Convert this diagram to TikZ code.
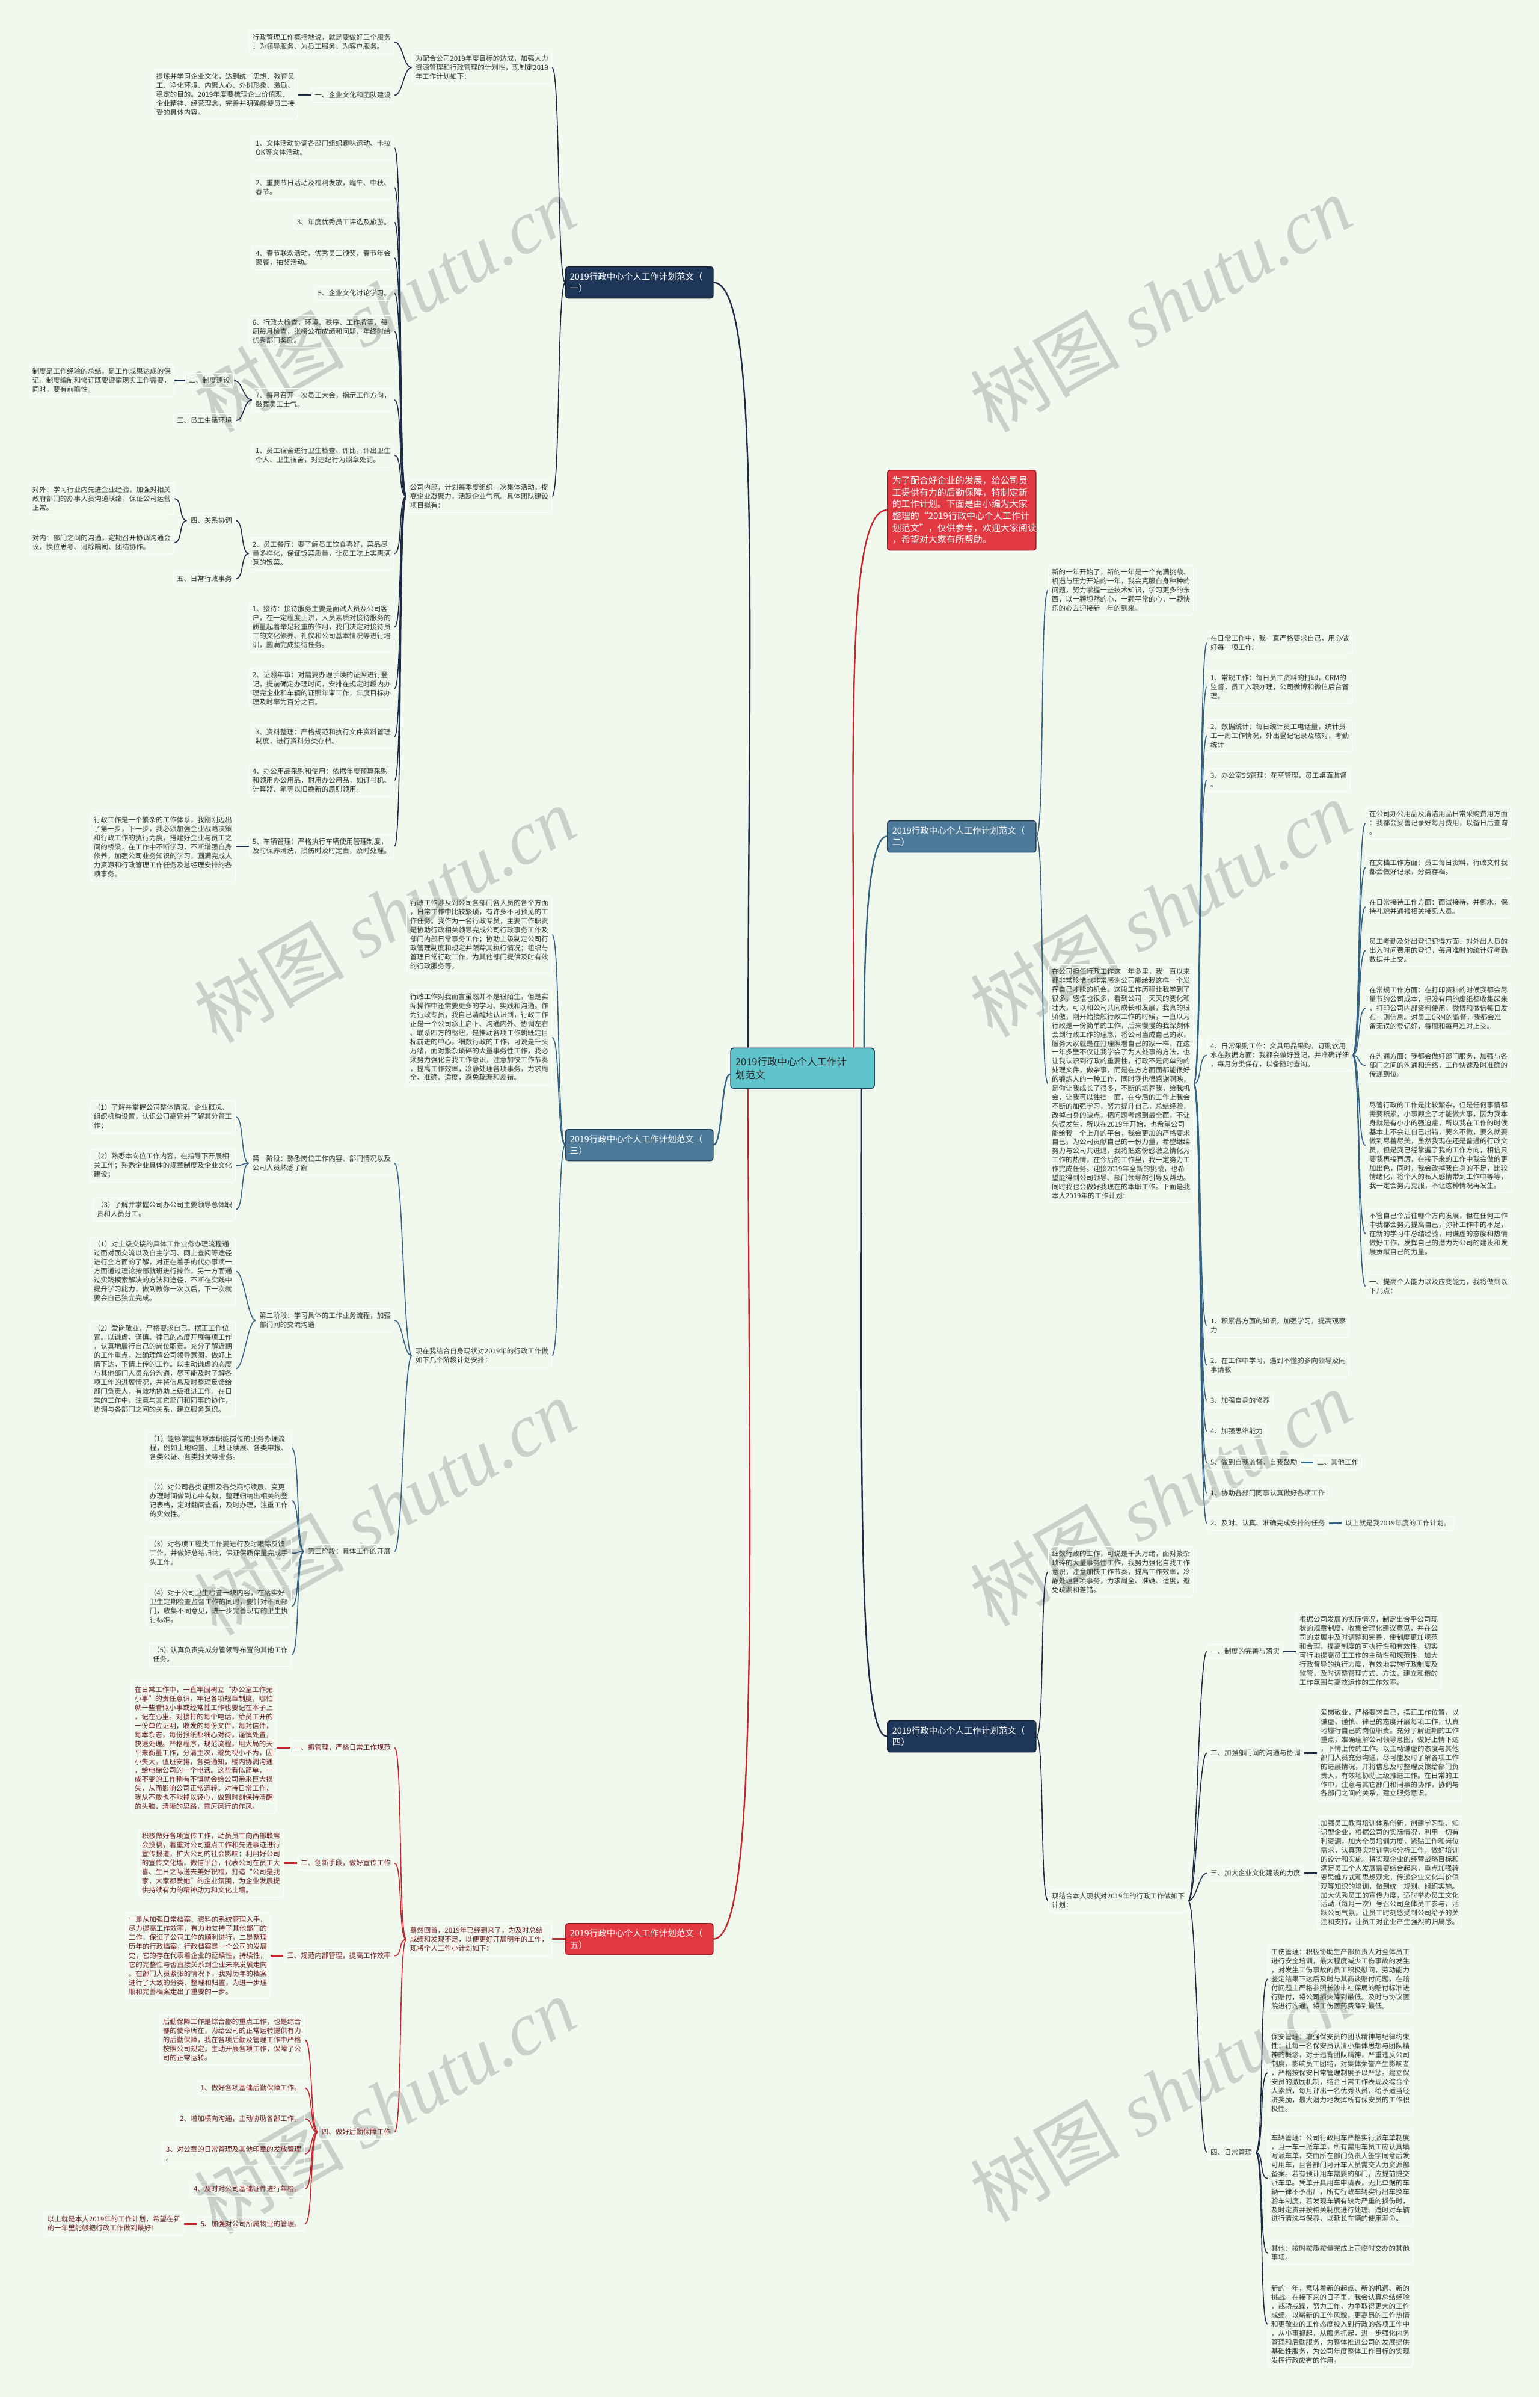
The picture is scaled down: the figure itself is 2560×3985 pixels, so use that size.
\documentclass[tikz,border=0pt]{standalone}
\usepackage{fontspec}
\setmainfont{Noto Sans CJK SC}
\newfontfamily\wmfont{Liberation Serif}
\pgfdeclarelayer{wmlayer}
\pgfdeclarelayer{linelayer}
\pgfsetlayers{wmlayer,linelayer,main}
\definecolor{bgc}{RGB}{241,249,239}
\definecolor{wmc}{RGB}{201,208,202}
\definecolor{leaftxt}{RGB}{51,51,51}
\definecolor{redtxt}{RGB}{110,28,28}
\definecolor{navyfill}{RGB}{30,55,88}
\definecolor{navyline}{RGB}{28,42,68}
\definecolor{steelfill}{RGB}{77,122,153}
\definecolor{steelline}{RGB}{52,96,130}
\definecolor{redfill}{RGB}{225,56,66}
\definecolor{redline}{RGB}{196,36,44}
\definecolor{ctrfill}{RGB}{96,196,204}
\newcommand\linkL[3][]{\draw[#1] (#2.west) .. controls +(-14,0) and +(14,0) .. (#3.east);}
\newcommand\linkR[3][]{\draw[#1] (#2.east) .. controls +(14,0) and +(-14,0) .. (#3.west);}
\newcommand\barL[2]{\draw[line width=2.6pt] (#1.west) -- (#1.west -| #2.east);}
\newcommand\barR[2]{\draw[line width=2.6pt] (#1.east) -- (#1.east -| #2.west);}
\tikzset{
  leaf/.style={draw=white, line width=1.1pt, rounded corners=5pt, inner xsep=5.5pt, inner ysep=6.5pt,
    align=left, font=\fontsize{11.5}{14.9}\selectfont, text=leaftxt},
  rleaf/.style={leaf, text=redtxt},
  lside/.style={anchor=north east},
  rside/.style={anchor=north west},
  branchbox/.style={rounded corners=4pt, line width=1.5pt, inner xsep=7pt, inner ysep=9.2pt,
    text width=231pt, align=left, font=\fontsize{14.5}{19.6}\selectfont, text=white, anchor=north west},
  navybr/.style={branchbox, fill=navyfill, draw=navyline!80!black},
  steelbr/.style={branchbox, fill=steelfill, draw=steelline!70!black},
  redbr/.style={branchbox, fill=redfill, draw=redline!80!black},
  cnavy/.style={draw=navyline, line width=1.6pt},
  csteel/.style={draw=steelline, line width=1.6pt},
  cred/.style={draw=redline, line width=1.6pt},
  wmark/.style={text=wmc, font=\fontsize{125}{130}\selectfont, rotate=30, inner sep=0pt}
}
\begin{document}
\begin{tikzpicture}[x=1pt,y=-1pt]
\useasboundingbox (0,0) rectangle (2560,3985);
\begin{pgfonlayer}{wmlayer}
\fill[bgc] (0,0) rectangle (2560,3985);
\node[wmark] (wm1) at (640,505) {树图\hspace{30pt}{\wmfont\itshape shutu.cn}};
\node[wmark] (wm2) at (1930,505) {树图\hspace{30pt}{\wmfont\itshape shutu.cn}};
\node[wmark] (wm3) at (640,1520) {树图\hspace{30pt}{\wmfont\itshape shutu.cn}};
\node[wmark] (wm4) at (1930,1510) {树图\hspace{30pt}{\wmfont\itshape shutu.cn}};
\node[wmark] (wm5) at (640,2505) {树图\hspace{30pt}{\wmfont\itshape shutu.cn}};
\node[wmark] (wm6) at (1930,2490) {树图\hspace{30pt}{\wmfont\itshape shutu.cn}};
\node[wmark] (wm7) at (640,3500) {树图\hspace{30pt}{\wmfont\itshape shutu.cn}};
\node[wmark] (wm8) at (1930,3480) {树图\hspace{30pt}{\wmfont\itshape shutu.cn}};
\end{pgfonlayer}

% ---------- centre and branches ----------
\node[fill=ctrfill, draw=steelline!70!black, line width=1.5pt, rounded corners=5pt, text width=223pt,
  inner xsep=8pt, inner ysep=15pt, align=left, font=\fontsize{16.5}{22}\selectfont, text=black!85] (ctr) at (1334.5,1776)
  {2019行政中心个人工作计\\划范文};
\node[navybr] (b1) at (940,443) {2019行政中心个人工作计划范文（\\一）};
\node[steelbr] (b3) at (940,1877) {2019行政中心个人工作计划范文（\\三）};
\node[redbr] (b5) at (940,3197) {2019行政中心个人工作计划范文（\\五）};
\node[redbr, font=\fontsize{15}{19.7}\selectfont, inner ysep=10pt, inner xsep=8pt] (intro) at (1475,781)
  {为了配合好企业的发展，给公司员\\工提供有力的后勤保障，特制定新\\的工作计划。下面是由小编为大家\\整理的“2019行政中心个人工作计\\划范文”，仅供参考，欢迎大家阅读\\，希望对大家有所帮助。};
\node[steelbr, inner xsep=8pt] (b2) at (1475,1364) {2019行政中心个人工作计划范文（\\二）};
\node[navybr, inner xsep=8pt] (b4) at (1475,2860) {2019行政中心个人工作计划范文（\\四）};

% ---------- branch one ----------
\node[leaf,lside] (a1) at (918,85) {为配合公司2019年度目标的达成，加强人力\\资源管理和行政管理的计划性，现制定2019\\年工作计划如下：};
\node[leaf,lside] (a1a) at (656,50) {行政管理工作概括地说，就是要做好三个服务\\：为领导服务、为员工服务、为客户服务。};
\node[leaf,lside] (a1b) at (656,146) {一、企业文化和团队建设};
\node[leaf,lside] (a1b1) at (496,115) {提炼并学习企业文化，达到统一思想、教育员\\工、净化环境、内聚人心、外树形象、激励、\\稳定的目的。2019年度要梳理企业价值观、\\企业精神、经营理念，完善并明确能使员工接\\受的具体内容。};
\node[leaf,lside] (a2) at (918,798) {公司内部，计划每季度组织一次集体活动，提\\高企业凝聚力，活跃企业气氛。具体团队建设\\项目拟有：};
\node[leaf,lside] (a2c1) at (656,226) {1、文体活动协调各部门组织趣味运动、卡拉\\OK等文体活动。};
\node[leaf,lside] (a2c2) at (656,292) {2、重要节日活动及福利发放，端午、中秋、\\春节。};
\node[leaf,lside] (a2c3) at (656,357) {3、年度优秀员工评选及旅游。};
\node[leaf,lside] (a2c4) at (656,409) {4、春节联欢活动，优秀员工颁奖，春节年会\\聚餐，抽奖活动。};
\node[leaf,lside] (a2c5) at (656,475) {5、企业文化讨论学习。};
\node[leaf,lside] (a2c6) at (656,524) {6、行政大检查，环境、秩序、工作牌等，每\\周每月检查，张榜公布成绩和问题，年终时给\\优秀部门奖励。};
\node[leaf,lside] (a2c7) at (656,645) {7、每月召开一次员工大会，指示工作方向，\\鼓舞员工士气。};
\node[leaf,lside] (s2) at (389,620) {二、制度建设};
\node[leaf,lside] (s2t) at (290,605) {制度是工作经验的总结，是工作成果达成的保\\证。制度编制和修订既要遵循现实工作需要，\\同时，要有前瞻性。};
\node[leaf,lside] (s3) at (392,687) {三、员工生活环境};
\node[leaf,lside] (a2c8) at (656,737) {1、员工宿舍进行卫生检查、评比，评出卫生\\个人、卫生宿舍，对违纪行为照章处罚。};
\node[leaf,lside] (a2c9) at (656,893) {2、员工餐厅：要了解员工饮食喜好，菜品尽\\量多样化，保证饭菜质量，让员工吃上实惠满\\意的饭菜。};
\node[leaf,lside] (s4) at (392,853) {四、关系协调};
\node[leaf,lside] (s4a) at (290,802) {对外：学习行业内先进企业经验，加强对相关\\政府部门的办事人员沟通联络，保证公司运营\\正常。};
\node[leaf,lside] (s4b) at (290,882) {对内：部门之间的沟通，定期召开协调沟通会\\议，换位思考、消除隔阂、团结协作。};
\node[leaf,lside] (s5) at (392,950) {五、日常行政事务};
\node[leaf,lside] (a2c10) at (656,1000) {1、接待：接待服务主要是面试人员及公司客\\户，在一定程度上讲，人员素质对接待服务的\\质量起着举足轻重的作用，我们决定对接待员\\工的文化修养、礼仪和公司基本情况等进行培\\训，圆满完成接待任务。};
\node[leaf,lside] (a2c11) at (656,1110) {2、证照年审：对需要办理手续的证照进行登\\记，提前确定办理时间，安排在规定时段内办\\理完企业和车辆的证照年审工作，年度目标办\\理及时率为百分之百。};
\node[leaf,lside] (a2c12) at (656,1205) {3、资料整理：严格规范和执行文件资料管理\\制度，进行资料分类存档。};
\node[leaf,lside] (a2c13) at (656,1270) {4、办公用品采购和使用：依据年度预算采购\\和领用办公用品，耐用办公用品，如订书机、\\计算器、笔等以旧换新的原则领用。};
\node[leaf,lside] (a2c14) at (656,1387) {5、车辆管理：严格执行车辆使用管理制度，\\及时保养清洗，损伤时及时定责，及时处理。};
\node[leaf,lside] (a2c14a) at (392,1351) {行政工作是一个繁杂的工作体系，我刚刚迈出\\了第一步，下一步，我必须加强企业战略决策\\和行政工作的执行力度，搭建好企业与员工之\\间的桥梁，在工作中不断学习，不断增强自身\\修养，加强公司业务知识的学习，圆满完成人\\力资源和行政管理工作任务及总经理安排的各\\项事务。};

% ---------- branch three ----------
\node[leaf,lside] (p1) at (918,1489) {行政工作涉及到公司各部门各人员的各个方面\\，日常工作中比较繁琐，有许多不可预见的工\\作任务。我作为一名行政专员，主要工作职责\\是协助行政相关领导完成公司行政事务工作及\\部门内部日常事务工作；协助上级制定公司行\\政管理制度和规定并跟踪其执行情况；组织与\\管理日常行政工作，为其他部门提供及时有效\\的行政服务等。};
\node[leaf,lside] (p2) at (918,1645) {行政工作对我而言虽然并不是很陌生，但是实\\际操作中还需要更多的学习、实践和沟通。作\\为行政专员，我自己清醒地认识到，行政工作\\正是一个公司承上启下、沟通内外、协调左右\\、联系四方的枢纽，是推动各项工作朝既定目\\标前进的中心。细数行政的工作，可说是千头\\万绪，面对繁杂琐碎的大量事务性工作，我必\\须努力强化自我工作意识，注意加快工作节奏\\，提高工作效率，冷静处理各项事务，力求周\\全、准确、适度，避免疏漏和差错。};
\node[leaf,lside] (p3) at (918,2234) {现在我结合自身现状对2019年的行政工作做\\如下几个阶段计划安排：};
\node[leaf,lside] (c1) at (656,1914) {第一阶段：熟悉岗位工作内容、部门情况以及\\公司人员熟悉了解};
\node[leaf,lside] (c1a) at (392,1829) {（1）了解并掌握公司整体情况，企业概况、\\组织机构设置，认识公司高管并了解其分管工\\作；};
\node[leaf,lside] (c1b) at (392,1910) {（2）熟悉本岗位工作内容，在指导下开展相\\关工作；熟悉企业具体的规章制度及企业文化\\建设；};
\node[leaf,lside] (c1c) at (392,1991) {（3）了解并掌握公司办公司主要领导总体职\\责和人员分工。};
\node[leaf,lside] (c2) at (656,2175) {第二阶段：学习具体的工作业务流程，加强\\部门间的交流沟通};
\node[leaf,lside] (c2a) at (392,2056) {（1）对上级交接的具体工作业务办理流程通\\过面对面交流以及自主学习、网上查阅等途径\\进行全方面的了解，对正在着手的代办事项一\\方面通过理论按部就班进行操作，另一方面通\\过实践摸索解决的方法和途径，不断在实践中\\提升学习能力，做到教你一次以后，下一次就\\要会自己独立完成。};
\node[leaf,lside] (c2b) at (392,2196) {（2）爱岗敬业，严格要求自己，摆正工作位\\置。以谦虚、谨慎、律己的态度开展每项工作\\，认真地履行自己的岗位职责。充分了解近期\\的工作重点，准确理解公司领导意图，做好上\\情下达，下情上传的工作。以主动谦虚的态度\\与其他部门人员充分沟通，尽可能及时了解各\\项工作的进展情况，并将信息及时整理反馈给\\部门负责人，有效地协助上级推进工作。在日\\常的工作中，注意与其它部门和同事的协作，\\协调与各部门之间的关系，建立服务意识。};
\node[leaf,lside] (c3) at (656,2567) {第三阶段：具体工作的开展};
\node[leaf,lside] (c3a) at (485,2380) {（1）能够掌握各项本职能岗位的业务办理流\\程，例如土地购置、土地证续展、各类申报、\\各类公证、各类报关等业务。};
\node[leaf,lside] (c3b) at (485,2460) {（2）对公司各类证照及各类商标续展、变更\\办理时间做到心中有数，整理归纳出相关的登\\记表格，定时翻阅查看，及时办理，注重工作\\的实效性。};
\node[leaf,lside] (c3c) at (485,2555) {（3）对各项工程类工作要进行及时跟踪反馈\\工作，并做好总结归纳，保证保质保量完成手\\头工作。};
\node[leaf,lside] (c3d) at (485,2636) {（4）对于公司卫生检查一块内容，在落实好\\卫生定期检查监督工作的同时，要针对不同部\\门，收集不同意见，进一步完善现有的卫生执\\行标准。};
\node[leaf,lside] (c3e) at (485,2731) {（5）认真负责完成分管领导布置的其他工作\\任务。};

% ---------- branch five ----------
\node[rleaf,lside] (d1) at (918,3197) {蓦然回首，2019年已经到来了，为及时总结\\成绩和发现不足，以便更好开展明年的工作，\\现将个人工作小计划如下：};
\node[rleaf,lside] (e1) at (656,2893) {一、抓管理，严格日常工作规范};
\node[rleaf,lside] (e1a) at (460,2797) {在日常工作中，一直牢固树立“办公室工作无\\小事”的责任意识，牢记各项规章制度，哪怕\\就一些看似小事或经常性工作也要记在本子上\\，记在心里。对接打的每个电话，给员工开的\\一份单位证明，收发的每份文件，每封信件，\\每本杂志，每份报纸都细心对待，谨慎处置，\\快速处理。严格程序，规范流程，用大局的天\\平来衡量工作，分清主次，避免视小不为，因\\小失大。值班安排，各类通知，楼内协调沟通\\，给电梯公司的一个电话。这些看似简单，一\\成不变的工作稍有不慎就会给公司带来巨大损\\失，从而影响公司正常运转。对待日常工作，\\我从不敢也不能掉以轻心，做到时刻保持清醒\\的头脑，清晰的思路，雷厉风行的作风。};
\node[rleaf,lside] (e2) at (656,3085) {二、创新手段，做好宣传工作};
\node[rleaf,lside] (e2a) at (472,3040) {积极做好各项宣传工作，动员员工向西部联席\\会投稿，着重对公司重点工作和先进事迹进行\\宣传报道，扩大公司的社会影响；利用好公司\\的宣传文化墙，微信平台，代表公司在员工大\\喜、生日之际送去美好祝福，打造“公司是我\\家，大家都爱她”的企业氛围，为企业发展提\\供持续有力的精神动力和文化土壤。};
\node[rleaf,lside] (e3) at (656,3239) {三、规范内部管理，提高工作效率};
\node[rleaf,lside] (e3a) at (450,3179) {一是从加强日常档案、资料的系统管理入手，\\尽力提高工作效率，有力地支持了其他部门的\\工作，保证了公司工作的顺利进行。二是整理\\历年的行政档案，行政档案是一个公司的发展\\史，它的存在代表着企业的延续性，持续性，\\它的完整性与否直接关系到企业未来发展走向\\。在部门人员紧张的情况下，我对历年的档案\\进行了大致的分类、整理和归置，为进一步理\\顺和完善档案走出了重要的一步。};
\node[rleaf,lside] (e4) at (656,3532) {四、做好后勤保障工作};
\node[rleaf,lside] (e4a) at (507,3349) {后勤保障工作是综合部的重点工作，也是综合\\部的使命所在，为给公司的正常运转提供有力\\的后勤保障，我在各项后勤及管理工作中严格\\按照公司规定，主动开展各项工作，保障了公\\司的正常运转。};
\node[rleaf,lside] (e4b) at (507,3459) {1、做好各项基础后勤保障工作。};
\node[rleaf,lside] (e4c) at (507,3510) {2、增加横向沟通，主动协助各部工作。};
\node[rleaf,lside] (e4d) at (507,3561) {3、对公章的日常管理及其他印章的发放管理\\。};
\node[rleaf,lside] (e4e) at (507,3627) {4、及时对公司基础证件进行年检。};
\node[rleaf,lside] (e4f) at (507,3685) {5、加强对公司所属物业的管理。};
\node[rleaf,lside] (e4f1) at (306,3677) {以上就是本人2019年的工作计划，希望在新\\的一年里能够把行政工作做到最好！};

% ---------- branch two ----------
\node[leaf,rside] (f1) at (1743,939) {新的一年开始了，新的一年是一个充满挑战、\\机遇与压力开始的一年，我会克服自身种种的\\问题，努力掌握一些技术知识，学习更多的东\\西，以一颗坦然的心，一颗平常的心，一颗快\\乐的心去迎接新一年的到来。};
\node[leaf,rside] (f2) at (1743,1603) {在公司担任行政工作这一年多里，我一直以来\\都非常珍惜也非常感谢公司能给我这样一个发\\挥自己才能的机会。这段工作历程让我学到了\\很多，感悟也很多，看到公司一天天的变化和\\壮大，可以和公司共同成长和发展，我真的很\\骄傲，刚开始接触行政工作的时候，一直以为\\行政是一份简单的工作，后来慢慢的我深刻体\\会到行政工作的理念，将公司当成自己的家，\\服务大家就是在打理照看自己的家一样，在这\\一年多里不仅让我学会了为人处事的方法，也\\让我认识到行政的重要性，行政不是简单的的\\处理文件，做杂事，而是在方方面面都能很好\\的锻炼人的一种工作，同时我也很感谢啊映，\\是你让我成长了很多，不断的培养我，给我机\\会，让我可以独挡一面，在今后的工作上我会\\不断的加强学习，努力提升自己，总结经验，\\改掉自身的缺点，把问题考虑到最全面，不让\\失误发生，所以在2019年开始，也希望公司\\能给我一个上升的平台，我会更加的严格要求\\自己，为公司贡献自己的一份力量，希望继续\\努力与公司共进退，我将把这份感激之情化为\\工作的热情，在今后的工作里，我一定努力工\\作完成任务。迎接2019年全新的挑战，也希\\望能得到公司领导、部门领导的引导及帮助。\\同时我也会做好我现在的本职工作。下面是我\\本人2019年的工作计划：};
\node[leaf,rside] (g3) at (2007,1049) {在日常工作中，我一直严格要求自己，用心做\\好每一项工作。};
\node[leaf,rside] (g4) at (2007,1115) {1、常规工作：每日员工资料的打印，CRM的\\监督，员工入职办理，公司微博和微信后台管\\理。};
\node[leaf,rside] (g5) at (2007,1196) {2、数据统计：每日统计员工电话量，统计员\\工一周工作情况，外出登记记录及核对，考勤\\统计};
\node[leaf,rside] (g6) at (2007,1277) {3、办公室5S管理：花草管理，员工桌面监督\\。};
\node[leaf,rside] (g7) at (2007,1727) {4、日常采购工作：文具用品采购，订购饮用\\水在数据方面：我都会做好登记，并准确详细\\，每月分类保存，以备随时查询。};
\node[leaf,rside] (g8) at (2007,2184) {1、积累各方面的知识，加强学习，提高观察\\力};
\node[leaf,rside] (g9) at (2007,2250) {2、在工作中学习，遇到不懂的多向领导及同\\事请教};
\node[leaf,rside] (g10) at (2007,2316) {3、加强自身的修养};
\node[leaf,rside] (g11) at (2007,2367) {4、加强思维能力};
\node[leaf,rside] (g12) at (2007,2419) {5、做到自我监督，自我鼓励};
\node[leaf,rside] (g12a) at (2184,2419) {二、其他工作};
\node[leaf,rside] (g13) at (2007,2470) {1、协助各部门同事认真做好各项工作};
\node[leaf,rside] (g14) at (2007,2520) {2、及时、认真、准确完成安排的任务};
\node[leaf,rside] (g14a) at (2231,2520) {以上就是我2019年度的工作计划。};
\node[leaf,rside] (q1) at (2271,1341) {在公司办公用品及清洁用品日常采购费用方面\\：我都会妥善记录好每月费用，以备日后查询\\。};
\node[leaf,rside] (q2) at (2271,1422) {在文档工作方面：员工每日资料，行政文件我\\都会做好记录，分类存档。};
\node[leaf,rside] (q3) at (2271,1488) {在日常接待工作方面：面试接待，并倒水，保\\持礼貌并通报相关接见人员。};
\node[leaf,rside] (q4) at (2271,1553) {员工考勤及外出登记记得方面：对外出人员的\\出入时间费用的登记，每月准时的统计好考勤\\数据并上交。};
\node[leaf,rside] (q5) at (2271,1634) {在常规工作方面：在打印资料的时候我都会尽\\量节约公司成本，把没有用的废纸都收集起来\\，打印公司内部资料使用。微博和微信每日发\\布一则信息。对员工CRM的监督，我都会准\\备无误的登记好，每周和每月准时上交。};
\node[leaf,rside] (q6) at (2271,1744) {在沟通方面：我都会做好部门服务，加强与各\\部门之间的沟通和连络，工作快速及时准确的\\传递到位。};
\node[leaf,rside] (q7) at (2271,1825) {尽管行政的工作是比较繁杂，但是任何事情都\\需要积累，小事顾全了才能做大事，因为我本\\身就是有小小的强迫症，所以我在工作的时候\\基本上不会让自己出错，要么不做，要么就要\\做到尽善尽美，虽然我现在还是普通的行政文\\员，但是我已经掌握了我的工作方向，相信只\\要我再接再厉，在接下来的工作中我会做的更\\加出色，同时，我会改掉我自身的不足，比较\\情绪化，将个人的私人感情带到工作中等等，\\我一定会努力克服，不让这种情况再发生。};
\node[leaf,rside] (q8) at (2271,2009) {不管自己今后往哪个方向发展，但在任何工作\\中我都会努力提高自己，弥补工作中的不足，\\在新的学习中总结经验，用谦虚的态度和热情\\做好工作，发挥自己的潜力为公司的建设和发\\展贡献自己的力量。};
\node[leaf,rside] (q9) at (2271,2119) {一、提高个人能力以及应变能力，我将做到以\\下几点：};

% ---------- branch four ----------
\node[leaf,rside] (h1) at (1743,2571) {细数行政的工作，可说是千头万绪，面对繁杂\\琐碎的大量事务性工作，我努力强化自我工作\\意识，注意加快工作节奏，提高工作效率，冷\\静处理各项事务，力求周全、准确、适度，避\\免疏漏和差错。};
\node[leaf,rside] (h2) at (1743,3140) {现结合本人现状对2019年的行政工作做如下\\计划：};
\node[leaf,rside] (k1) at (2007,2733) {一、制度的完善与落实};
\node[leaf,rside] (k1a) at (2155,2680) {根据公司发展的实际情况，制定出合乎公司现\\状的规章制度，收集合理化建议意见，并在公\\司的发展中及时调整和完善，使制度更加规范\\和合理，提高制度的可执行性和有效性，切实\\可行地提高员工工作的主动性和规范性，加大\\行政督导的执行力度，有效地实施行政制度及\\监管，及时调整管理方式、方法，建立和谐的\\工作氛围与高效运作的工作效率。};
\node[leaf,rside] (k2) at (2007,2902) {二、加强部门间的沟通与协调};
\node[leaf,rside] (k2a) at (2190,2835) {爱岗敬业，严格要求自己，摆正工作位置，以\\谦虚、谨慎、律己的态度开展每项工作，认真\\地履行自己的岗位职责。充分了解近期的工作\\重点，准确理解公司领导意图，做好上情下达\\，下情上传的工作。以主动谦虚的态度与其他\\部门人员充分沟通，尽可能及时了解各项工作\\的进展情况，并将信息及时整理反馈给部门负\\责人，有效地协助上级推进工作。在日常的工\\作中，注意与其它部门和同事的协作，协调与\\各部门之间的关系，建立服务意识。};
\node[leaf,rside] (k3) at (2007,3102) {三、加大企业文化建设的力度};
\node[leaf,rside] (k3a) at (2190,3019) {加强员工教育培训体系创新，创建学习型、知\\识型企业，根据公司的实际情况，利用一切有\\利资源，加大全员培训力度，紧贴工作和岗位\\需求，认真落实培训需求分析工作，做好培训\\的设计和实施。将实现企业的经营战略目标和\\满足员工个人发展需要结合起来，重点加强转\\变思维方式和思想观念，传递企业文化与价值\\观等知识的培训，做到统一规划、组织实施。\\加大优秀员工的宣传力度，适时举办员工文化\\活动（每月一次）号召公司全体员工参与，活\\跃公司气氛，让员工时刻感受到公司给予的关\\注和支持，让员工对企业产生强烈的归属感。};
\node[leaf,rside] (k4) at (2007,3566) {四、日常管理};
\node[leaf,rside] (m1) at (2108,3233) {工伤管理：积极协助生产部负责人对全体员工\\进行安全培训，最大程度减少工伤事故的发生\\，对发生工伤事故的员工积极慰问，劳动能力\\鉴定结果下达后及时与其商谈赔付问题，在赔\\付问题上严格参照长沙市社保局的赔付标准进\\行赔付，将公司损失降到最低。及时与协议医\\院进行沟通，将工伤医药费降到最低。};
\node[leaf,rside] (m2) at (2108,3374) {保安管理：增强保安员的团队精神与纪律约束\\性；让每一名保安员认清小集体思想与团队精\\神的概念，对于违背团队精神，严重违反公司\\制度，影响员工团结，对集体荣誉产生影响者\\，严格按保安日常管理制度予以严惩。建立保\\安员的激励机制，结合日常工作表现及综合个\\人素质，每月评出一名优秀队员，给予适当经\\济奖励，最大潜力地发挥所有保安员的工作积\\极性。};
\node[leaf,rside] (m3) at (2108,3542) {车辆管理：公司行政用车严格实行派车单制度\\，且一车一派车单，所有需用车员工应认真填\\写派车单，交由所在部门负责人签字同意后发\\可用车，且各部门可开车人员需交人力资源部\\备案。若有预计用车需要的部门，应提前提交\\派车单。凭单开具用车申请表，无此单据的车\\辆一律不予出厂，所有行政车辆实行出车换车\\验车制度，若发现车辆有较为严重的损伤时，\\及时定责并按相关制度进行处理。适时对车辆\\进行清洗与保养，以延长车辆的使用寿命。};
\node[leaf,rside] (m4) at (2108,3726) {其他：按时按质按量完成上司临时交办的其他\\事项。};
\node[leaf,rside] (m5) at (2108,3792) {新的一年，意味着新的起点、新的机遇、新的\\挑战。在接下来的日子里，我会认真总结经验\\，戒骄戒躁，努力工作，力争取得更大的工作\\成绩。以崭新的工作风貌，更高昂的工作热情\\和更敬业的工作态度投入到行政的各项工作中\\，从小事抓起，从服务抓起，进一步强化内务\\管理和后勤服务，为整体推进公司的发展提供\\基础性服务，为公司年度整体工作目标的实现\\发挥行政应有的作用。};

% ---------- connectors ----------
\begin{pgfonlayer}{linelayer}
\draw[navyline, line width=2.4pt] ([xshift=30pt]ctr.north west) .. controls +(0,-700) and +(80,0) .. (b1.east);
\draw[steelline, line width=2.4pt] ([yshift=-10pt]ctr.west) .. controls +(-15,0) and +(15,0) .. (b3.east);
\draw[redline, line width=2.4pt] ([xshift=30pt]ctr.south west) .. controls +(0,700) and +(80,0) .. (b5.east);
\draw[redline, line width=2.4pt] ([xshift=-35pt]ctr.north east) .. controls +(0,-500) and +(-70,0) .. (intro.west);
\draw[steelline, line width=2.4pt] ([xshift=-18pt]ctr.north east) .. controls +(0,-200) and +(-30,0) .. (b2.west);
\draw[navyline, line width=2.4pt] ([xshift=-22pt]ctr.south east) .. controls +(0,600) and +(-50,0) .. (b4.west);

\begin{scope}[cnavy]
\linkL{b1}{a1} \linkL{b1}{a2}
\linkL{a1}{a1a} \linkL{a1}{a1b}
\barL{a1b}{a1b1}
\foreach \n in {a2c1,a2c2,a2c3,a2c4,a2c5,a2c6,a2c7,a2c8,a2c9,a2c10,a2c11,a2c12,a2c13,a2c14} {\linkL{a2}{\n}}
\linkL{a2c7}{s2} \linkL{a2c7}{s3}
\barL{s2}{s2t}
\linkL{a2c9}{s4} \linkL{a2c9}{s5}
\linkL{s4}{s4a} \linkL{s4}{s4b}
\barL{a2c14}{a2c14a}
\end{scope}

\begin{scope}[csteel]
\linkL{b3}{p1} \linkL{b3}{p2} \linkL{b3}{p3}
\linkL{p3}{c1} \linkL{p3}{c2} \linkL{p3}{c3}
\linkL{c1}{c1a} \linkL{c1}{c1b} \linkL{c1}{c1c}
\linkL{c2}{c2a} \linkL{c2}{c2b}
\foreach \n in {c3a,c3b,c3c,c3d,c3e} {\linkL{c3}{\n}}
\linkR{b2}{f1} \linkR{b2}{f2}
\foreach \n in {g3,g4,g5,g6,g7,g8,g9,g10,g11,g12,g13,g14} {\linkR{f2}{\n}}
\foreach \n in {q1,q2,q3,q4,q5,q6,q7,q8,q9} {\linkR{g7}{\n}}
\barR{g12}{g12a}
\barR{g14}{g14a}
\end{scope}

\begin{scope}[cred]
\barL{b5}{d1}
\foreach \n in {e1,e2,e3,e4} {\linkL{d1}{\n}}
\barL{e1}{e1a} \barL{e2}{e2a} \barL{e3}{e3a}
\foreach \n in {e4a,e4b,e4c,e4d,e4e,e4f} {\linkL{e4}{\n}}
\barL{e4f}{e4f1}
\end{scope}

\begin{scope}[cnavy]
\linkR{b4}{h1} \linkR{b4}{h2}
\foreach \n in {k1,k2,k3,k4} {\linkR{h2}{\n}}
\barR{k1}{k1a} \barR{k2}{k2a} \barR{k3}{k3a}
\foreach \n in {m1,m2,m3,m4,m5} {\linkR{k4}{\n}}
\end{scope}
\end{pgfonlayer}
\end{tikzpicture}
\end{document}
